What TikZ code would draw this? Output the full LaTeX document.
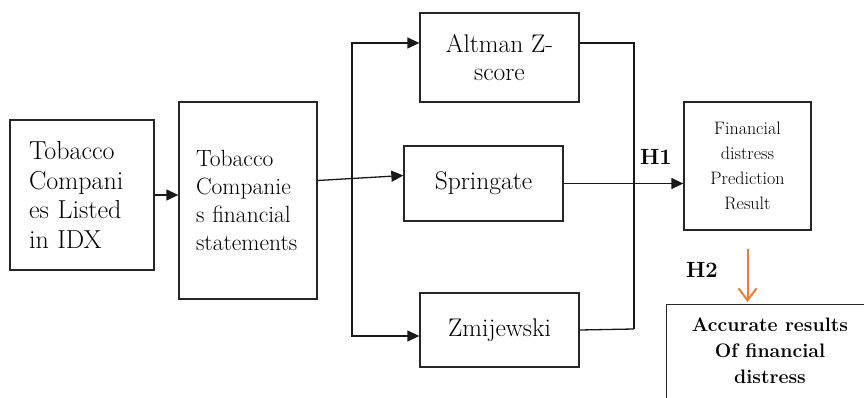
\documentclass[tikz,border=0pt]{standalone}
\usepackage{fontspec}
\usetikzlibrary{arrows.meta}
\definecolor{oran}{RGB}{237,125,49}
\begin{document}
\begin{tikzpicture}[x=1pt,y=-1pt,
  box/.style={draw=black!85, line width=1.3pt, rectangle, inner sep=0pt},
  ln/.style={line width=1.3pt, black!90},
  arr/.style={ln, -{Triangle[length=12pt,width=11pt]}},
  darr/.style={ln, {Triangle[length=12pt,width=11pt]}-{Triangle[length=12pt,width=11pt]}},
  oarr/.style={line width=2pt, oran, -{Straight Barb[length=12pt,width=18pt]}},
  hlab/.style={font=\bfseries\fontsize{22}{26}\selectfont}]
\clip (0,0) rectangle (864,398);
\node[box, minimum width=144pt, minimum height=150pt, text width=106pt, inner xsep=19pt, align=left,
  font=\fontsize{26}{29.5}\selectfont] (b1) at (82,195) {Tobacco\\Compani\\es Listed\\in IDX};
\node[box, minimum width=138pt, minimum height=197pt, text width=104pt, inner xsep=17pt, align=left,
  font=\fontsize{23.5}{28}\selectfont] (b2) at (248,200.5) {Tobacco\\Companie\\s financial\\statements};
\node[box, minimum width=159pt, minimum height=89pt, align=center, font=\fontsize{25.5}{28}\selectfont]
  (alt) at (499.5,57.5) {Altman Z-\\score};
\node[box, minimum width=159pt, minimum height=75pt, font=\fontsize{25.5}{28}\selectfont]
  (spr) at (483.5,183.5) {Springate};
\node[box, minimum width=159pt, minimum height=74pt, font=\fontsize{25.5}{28}\selectfont]
  (zmi) at (499.5,330) {Zmijewski};
\node[box, minimum width=127pt, minimum height=128pt, align=center, font=\fontsize{18}{25}\selectfont]
  (fin) at (747.5,166) {Financial\\distress\\Prediction\\Result};
\node[box, anchor=north west, minimum width=220pt, minimum height=150pt] (accbox) at (666,304) {};
\node[align=center, font=\bfseries\fontsize{19.5}{26}\selectfont] (acc) at (770,351)
  {Accurate results\\Of financial\\distress};
\node[hlab] (h1) at (656,157) {H1};
\node[hlab] (h2) at (702,270) {H2};
% connectors
\draw[arr] (b1.east) -- (b2.west |- b1.east);
\draw[arr] ([yshift=20pt]b2.east) -- ([yshift=8pt]spr.west);
\coordinate (lb) at (352,200);
\draw[darr] ([yshift=14.5pt]alt.west) -| (lb) |- ([yshift=-6pt]zmi.west);
\coordinate (rb) at (634,329);
\draw[ln] ([yshift=14.5pt]alt.east) -| (rb);
\draw[ln] (zmi.east) -- (rb);
\draw[arr] (spr.east) -- (spr.east -| fin.west);
\draw[oarr] ([yshift=-18pt]fin.south) -- ([yshift=2pt]fin.south |- accbox.north);
\end{tikzpicture}
\end{document}
